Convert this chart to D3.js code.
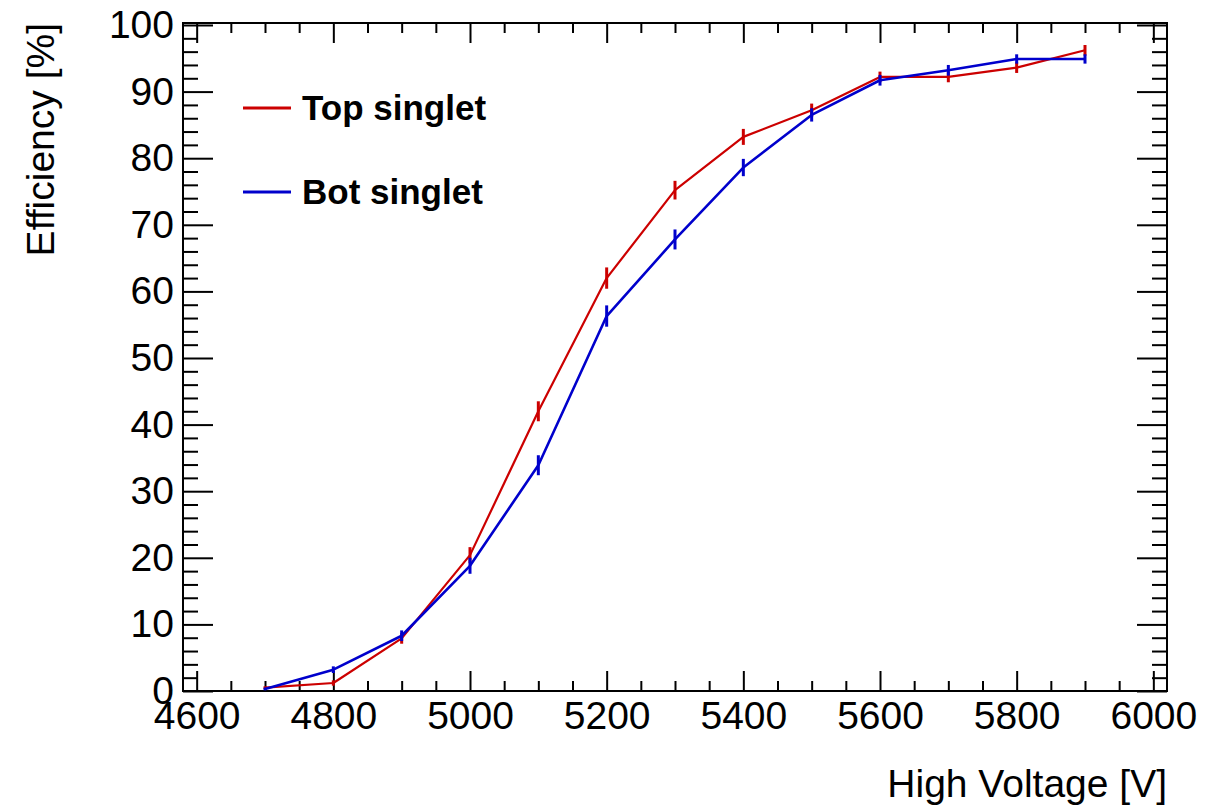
<!DOCTYPE html>
<html>
<head>
<meta charset="utf-8">
<script src="https://cdn.jsdelivr.net/npm/d3@7"></script>
<style>
  html, body { margin: 0; padding: 0; background: #fff; }
  svg { display: block; font-family: "Liberation Sans", Arial, Helvetica, sans-serif; }
</style>
</head>
<body>
<svg id="chart" width="1223" height="806"></svg>
<script>
// ---- Data ----
const voltages = [4700, 4800, 4900, 5000, 5100, 5200, 5300, 5400, 5500, 5600, 5700, 5800, 5900];
const topSinglet = [0.5, 1.2, 7.9, 20.4, 42.0, 62.0, 75.2, 83.2, 87.2, 92.2, 92.2, 93.6, 96.2];
const topErrors  = [0.2, 0.4, 0.8, 1.2, 1.5, 1.6, 1.4, 1.2, 1.0, 0.8, 0.8, 0.8, 0.8];
const botSinglet = [0.3, 3.2, 8.3, 18.8, 33.9, 56.3, 67.8, 78.6, 86.5, 91.7, 93.2, 94.9, 94.9];
const botErrors  = [0.2, 0.5, 0.8, 1.2, 1.5, 1.6, 1.5, 1.3, 1.0, 0.8, 0.8, 0.7, 0.7];
const xMajorTicks = [4600, 4800, 5000, 5200, 5400, 5600, 5800, 6000];
const xMinorTicks = [4650, 4700, 4750, 4850, 4900, 4950, 5050, 5100, 5150, 5250, 5300, 5350, 5450, 5500, 5550, 5650, 5700, 5750, 5850, 5900, 5950];
const yMajorTicks = [0, 10, 20, 30, 40, 50, 60, 70, 80, 90, 100];
const yMinorTicks = [2,4,6,8,12,14,16,18,22,24,26,28,32,34,36,38,42,44,46,48,52,54,56,58,62,64,66,68,72,74,76,78,82,84,86,88,92,94,96,98];
const seriesNames = ["Top singlet", "Bot singlet"];
const seriesColors = ["#cc0000", "#0000cc"];

// ---- Layout ----
const L = 183, R = 1167, T = 23, B = 691;
const svg = d3.select("#chart");

const x = d3.scaleLinear().domain([4580, 6020]).range([L, R]);
const y = d3.scaleLinear().domain([0, 100.3]).range([B, T]);

const tickFont = 39;

function styleAxis(g) {
  g.select(".domain").remove();
  g.selectAll(".tick line").attr("stroke", "#000").attr("stroke-width", 2);
  g.selectAll(".tick text").attr("fill", "#000").style("font-size", tickFont + "px")
    .style("font-family", '"Liberation Sans", Arial, sans-serif');
}

// bottom axis major with labels
svg.append("g").attr("transform", `translate(0,${B})`)
  .call(d3.axisBottom(x).tickValues(xMajorTicks).tickSize(-20).tickPadding(10).tickFormat(d3.format("d")))
  .call(styleAxis);
svg.append("g").attr("transform", `translate(0,${B})`)
  .call(d3.axisBottom(x).tickValues(xMinorTicks).tickSize(-10).tickFormat(""))
  .call(styleAxis);
// top axis mirrored
svg.append("g").attr("transform", `translate(0,${T})`)
  .call(d3.axisTop(x).tickValues(xMajorTicks).tickSize(-20).tickFormat(""))
  .call(styleAxis);
svg.append("g").attr("transform", `translate(0,${T})`)
  .call(d3.axisTop(x).tickValues(xMinorTicks).tickSize(-10).tickFormat(""))
  .call(styleAxis);
// left axis
svg.append("g").attr("transform", `translate(${L},0)`)
  .call(d3.axisLeft(y).tickValues(yMajorTicks).tickSize(-30).tickPadding(9).tickFormat(d3.format("d")))
  .call(styleAxis);
svg.append("g").attr("transform", `translate(${L},0)`)
  .call(d3.axisLeft(y).tickValues(yMinorTicks).tickSize(-15).tickFormat(""))
  .call(styleAxis);
// right axis mirrored
svg.append("g").attr("transform", `translate(${R},0)`)
  .call(d3.axisRight(y).tickValues(yMajorTicks).tickSize(-30).tickFormat(""))
  .call(styleAxis);
svg.append("g").attr("transform", `translate(${R},0)`)
  .call(d3.axisRight(y).tickValues(yMinorTicks).tickSize(-15).tickFormat(""))
  .call(styleAxis);

// frame
svg.append("rect").attr("x", L).attr("y", T).attr("width", R - L).attr("height", B - T)
  .attr("fill", "none").attr("stroke", "#000").attr("stroke-width", 2);

// ---- Series ----
const series = [
  { name: seriesNames[0], vals: topSinglet, errs: topErrors, color: seriesColors[0], w: 2.2 },
  { name: seriesNames[1], vals: botSinglet, errs: botErrors, color: seriesColors[1], w: 2.6 }
];
const line = d3.line().x(d => x(d[0])).y(d => y(d[1]));

series.forEach(s => {
  const pts = voltages.map((v, i) => [v, s.vals[i], s.errs[i]]);
  svg.append("path").datum(pts).attr("d", line)
    .attr("fill", "none").attr("stroke", s.color).attr("stroke-width", s.w)
    .attr("stroke-linejoin", "round");
  svg.append("g").selectAll("line").data(pts).join("line")
    .attr("x1", d => x(d[0])).attr("x2", d => x(d[0]))
    .attr("y1", d => y(d[1] - d[2])).attr("y2", d => y(d[1] + d[2]))
    .attr("stroke", s.color).attr("stroke-width", 3);
});

// ---- Legend ----
const legY = [108, 192];
series.forEach((s, i) => {
  svg.append("line").attr("x1", 243).attr("x2", 291).attr("y1", legY[i]).attr("y2", legY[i])
    .attr("stroke", s.color).attr("stroke-width", 3);
  svg.append("text").attr("x", 302).attr("y", legY[i]).attr("dy", "0.35em")
    .style("font-size", "35px").style("font-weight", "bold").attr("fill", "#000")
    .text(s.name);
});

// ---- Axis titles ----
svg.append("text").attr("x", R).attr("y", 797).attr("text-anchor", "end")
  .style("font-size", "39px").attr("fill", "#000").text("High Voltage [V]");
svg.append("text").attr("transform", `translate(54,${T}) rotate(-90)`).attr("text-anchor", "end")
  .style("font-size", "39px").attr("fill", "#000").text("Efficiency [%]");
</script>
</body>
</html>
